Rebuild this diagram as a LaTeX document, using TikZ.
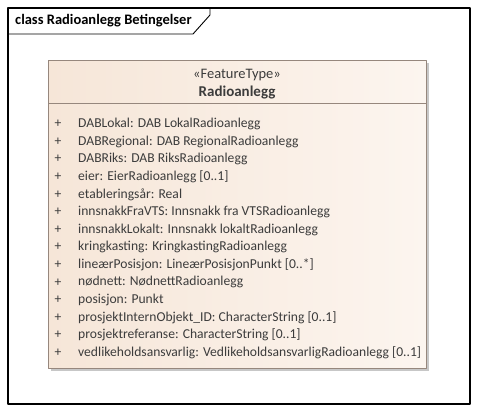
\documentclass[tikz,border=0pt]{standalone}
\usepackage{fontspec}
\setmainfont{Carlito}
\definecolor{boxline}{RGB}{150,135,125}
\definecolor{boxfillA}{RGB}{246,230,216}
\definecolor{boxfillB}{RGB}{252,245,239}
\definecolor{attrtext}{RGB}{60,60,60}
\tikzset{
  attr/.style={anchor=west,inner sep=0pt,text=attrtext},
  plus/.style={anchor=center,inner sep=0pt,text=attrtext},
}
\begin{document}
\begin{tikzpicture}[x=1pt,y=-1pt,line join=round,font=\fontsize{13.6}{15}\selectfont]
		\def\ytop{124} \def\dy{17.6}
		\useasboundingbox (0,0) rectangle (478,412);
		% frame with tab
		\draw[line width=1.1] (8,8) rectangle (470,404);
		\draw[line width=0.9] (8,34)--(193,34)--(210,15)--(210,8);
		\node[anchor=west,inner sep=0pt,font=\fontsize{14.5}{16}\selectfont\bfseries] (title) at (15,21) {class Radioanlegg Betingelser};
		% class box
		\fill[black!22] (51,63) rectangle (429,371);
		\shade[left color=boxfillA,right color=boxfillB] (48,60) rectangle (426,368);
		\draw[boxline] (48,60) rectangle (426,368);
		\draw[boxline] (48,103)--(426,103);
		\node[inner sep=0pt,text=attrtext,font=\fontsize{14.5}{16}\selectfont] (stereo) at (237,75) {«FeatureType»};
		\node[inner sep=0pt,text=attrtext,font=\fontsize{15}{16}\selectfont\bfseries] (name) at (237,93) {Radioanlegg};
		% attributes
		\foreach \i in {0,...,13} \node[plus] (p\i) at (58,\ytop+\i*\dy) {+};
		\node[attr] (a0) at (78,\ytop+0*\dy) {DABLokal: DAB LokalRadioanlegg};
		\node[attr] (a1) at (78,\ytop+1*\dy) {DABRegional: DAB RegionalRadioanlegg};
		\node[attr] (a2) at (78,\ytop+2*\dy) {DABRiks: DAB RiksRadioanlegg};
		\node[attr] (a3) at (78,\ytop+3*\dy) {eier: EierRadioanlegg [0..1]};
		\node[attr] (a4) at (78,\ytop+4*\dy) {etableringsår: Real};
		\node[attr] (a5) at (78,\ytop+5*\dy) {innsnakkFraVTS: Innsnakk fra VTSRadioanlegg};
		\node[attr] (a6) at (78,\ytop+6*\dy) {innsnakkLokalt: Innsnakk lokaltRadioanlegg};
		\node[attr] (a7) at (78,\ytop+7*\dy) {kringkasting: KringkastingRadioanlegg};
		\node[attr] (a8) at (78,\ytop+8*\dy) {lineærPosisjon: LineærPosisjonPunkt [0..*]};
		\node[attr] (a9) at (78,\ytop+9*\dy) {nødnett: NødnettRadioanlegg};
		\node[attr] (a10) at (78,\ytop+10*\dy) {posisjon: Punkt};
		\node[attr] (a11) at (78,\ytop+11*\dy) {prosjektInternObjekt\_ID: CharacterString [0..1]};
		\node[attr] (a12) at (78,\ytop+12*\dy) {prosjektreferanse: CharacterString [0..1]};
		\node[attr] (a13) at (78,\ytop+13*\dy) {vedlikeholdsansvarlig: VedlikeholdsansvarligRadioanlegg [0..1]};
\end{tikzpicture}
\end{document}
